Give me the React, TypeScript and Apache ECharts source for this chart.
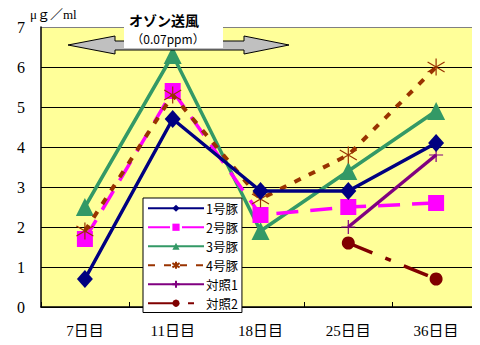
import React, { useEffect, useRef } from "react";
import * as echarts from "echarts";

// Sampling days and measured concentrations (μg/ml)
const days = ["7日目", "11日目", "18日目", "25日目", "36日目"];
const pig1 = [0.7, 4.7, 2.9, 2.9, 4.1];
const pig2 = [1.7, 5.4, 2.3, 2.5, 2.6];
const pig3 = [2.5, 6.3, 1.9, 3.4, 4.9];
const pig4 = [1.9, 5.3, 2.7, 3.8, 6.0];
const control1 = [null, null, null, 2.0, 3.8];
const control2 = [null, null, null, 1.6, 0.7];
const seriesNames = ["1号豚", "2号豚", "3号豚", "4号豚", "対照1", "対照2"];

const SERIF = '"Liberation Serif", "DejaVu Serif", "Noto Sans CJK JP", serif';
const GOTHIC = '"Noto Sans CJK JP", "Noto Sans", sans-serif';

const starPath = "path://M0,-10L0,10M-8.5,-6L8.5,6M-8.5,6L8.5,-6";
const plusPath = "path://M0,-10L0,10M-10,0L10,0";

export default function App() {
  const ref = useRef<HTMLDivElement>(null);

  useEffect(() => {
    if (!ref.current) return;
    const chart = echarts.init(ref.current, null, { renderer: "svg" });
    const line = (
      name: string,
      data: (number | null)[],
      color: string,
      symbol: string,
      symbolSize: any,
      type: any,
      width: number,
      z: number,
      stroked = false
    ) => ({
      name,
      type: "line",
      data,
      symbol,
      symbolSize,
      z,
      connectNulls: false,
      lineStyle: { color, width, type },
      itemStyle: stroked
        ? { color: "rgba(0,0,0,0)", borderColor: color, borderWidth: 1.2 }
        : { color, borderWidth: 0 },
      emphasis: { disabled: true },
    });

    chart.setOption({
      animation: false,
      backgroundColor: "#ffffff",
      grid: {
        left: 41,
        right: 0,
        top: 27,
        bottom: 38,
        show: true,
        backgroundColor: "#ffff99",
        borderWidth: 0,
      },
      legend: {
        orient: "vertical",
        left: 143,
        top: 198,
        width: 97,
        padding: [4, 4, 3, 4],
        backgroundColor: "#ffffff",
        borderColor: "#000000",
        borderWidth: 1,
        borderRadius: 0,
        itemWidth: 56,
        itemHeight: 9,
        itemGap: 6.5,
        data: seriesNames,
        textStyle: { fontFamily: GOTHIC, fontSize: 12.5, color: "#000", padding: [0, 0, 0, -3] },
      },
      xAxis: {
        type: "category",
        data: days,
        boundaryGap: true,
        axisLine: { show: true, lineStyle: { color: "#000", width: 1.5 } },
        axisTick: { show: true, inside: true, length: 5, lineStyle: { color: "#000" } },
        axisLabel: { fontFamily: SERIF, fontSize: 15, color: "#000", margin: 16 },
        splitLine: { show: false },
      },
      yAxis: {
        type: "value",
        min: 0,
        max: 7,
        interval: 1,
        axisLine: { show: true, lineStyle: { color: "#000", width: 1.5 } },
        axisTick: { show: false },
        axisLabel: { fontFamily: SERIF, fontSize: 16, color: "#000", margin: 16 },
        splitLine: {
          show: true,
          lineStyle: {
            color: ["#000", "#000", "#000", "#000", "#000", "#000", "#000", "#808080"],
            width: 1,
          },
        },
      },
      graphic: [
        {
          type: "text",
          left: 30,
          top: 8,
          style: { text: "μｇ／ml", fontFamily: SERIF, fontSize: 13, fill: "#000" },
        },
        {
          type: "polygon",
          z: 100,
          shape: {
            points: [
              [68, 45], [115, 36], [115, 41], [244, 41], [244, 36],
              [289, 45], [244, 54], [244, 50], [115, 50], [115, 54],
            ],
          },
          style: { fill: "#c0c0c0", stroke: "#000", lineWidth: 1 },
        },
        {
          type: "rect",
          z: 101,
          shape: { x: 124, y: 8, width: 99, height: 40 },
          style: { fill: "#ffffff" },
        },
        {
          type: "text",
          z: 102,
          x: 164,
          y: 20,
          style: {
            text: "オゾン送風",
            fontFamily: GOTHIC,
            fontSize: 14,
            fontWeight: "bold",
            fill: "#000",
            align: "center",
            verticalAlign: "middle",
          },
        },
        {
          type: "text",
          z: 102,
          x: 168,
          y: 38,
          style: {
            text: "（0.07ppm）",
            fontFamily: GOTHIC,
            fontSize: 12,
            fill: "#000",
            align: "center",
            verticalAlign: "middle",
          },
        },
      ],
      series: [
        line("1号豚", pig1, "#000080", "diamond", [16, 18], "solid", 3.5, 6),
        line("2号豚", pig2, "#ff00ff", "rect", 16, [22, 12], 3.5, 3),
        line("3号豚", pig3, "#339966", "triangle", 18, "solid", 3.5, 2),
        line("4号豚", pig4, "#993300", starPath, 17, [7, 9], 4, 4, true),
        line("対照1", control1, "#800080", plusPath, 14, "solid", 3.5, 5, true),
        line("対照2", control2, "#800000", "circle", 13, [26, 14, 6, 14], 3.5, 5),
      ],
    });
    return () => chart.dispose();
  }, []);

  return <div ref={ref} style={{ width: 480, height: 345, margin: -8 }} />;
}
